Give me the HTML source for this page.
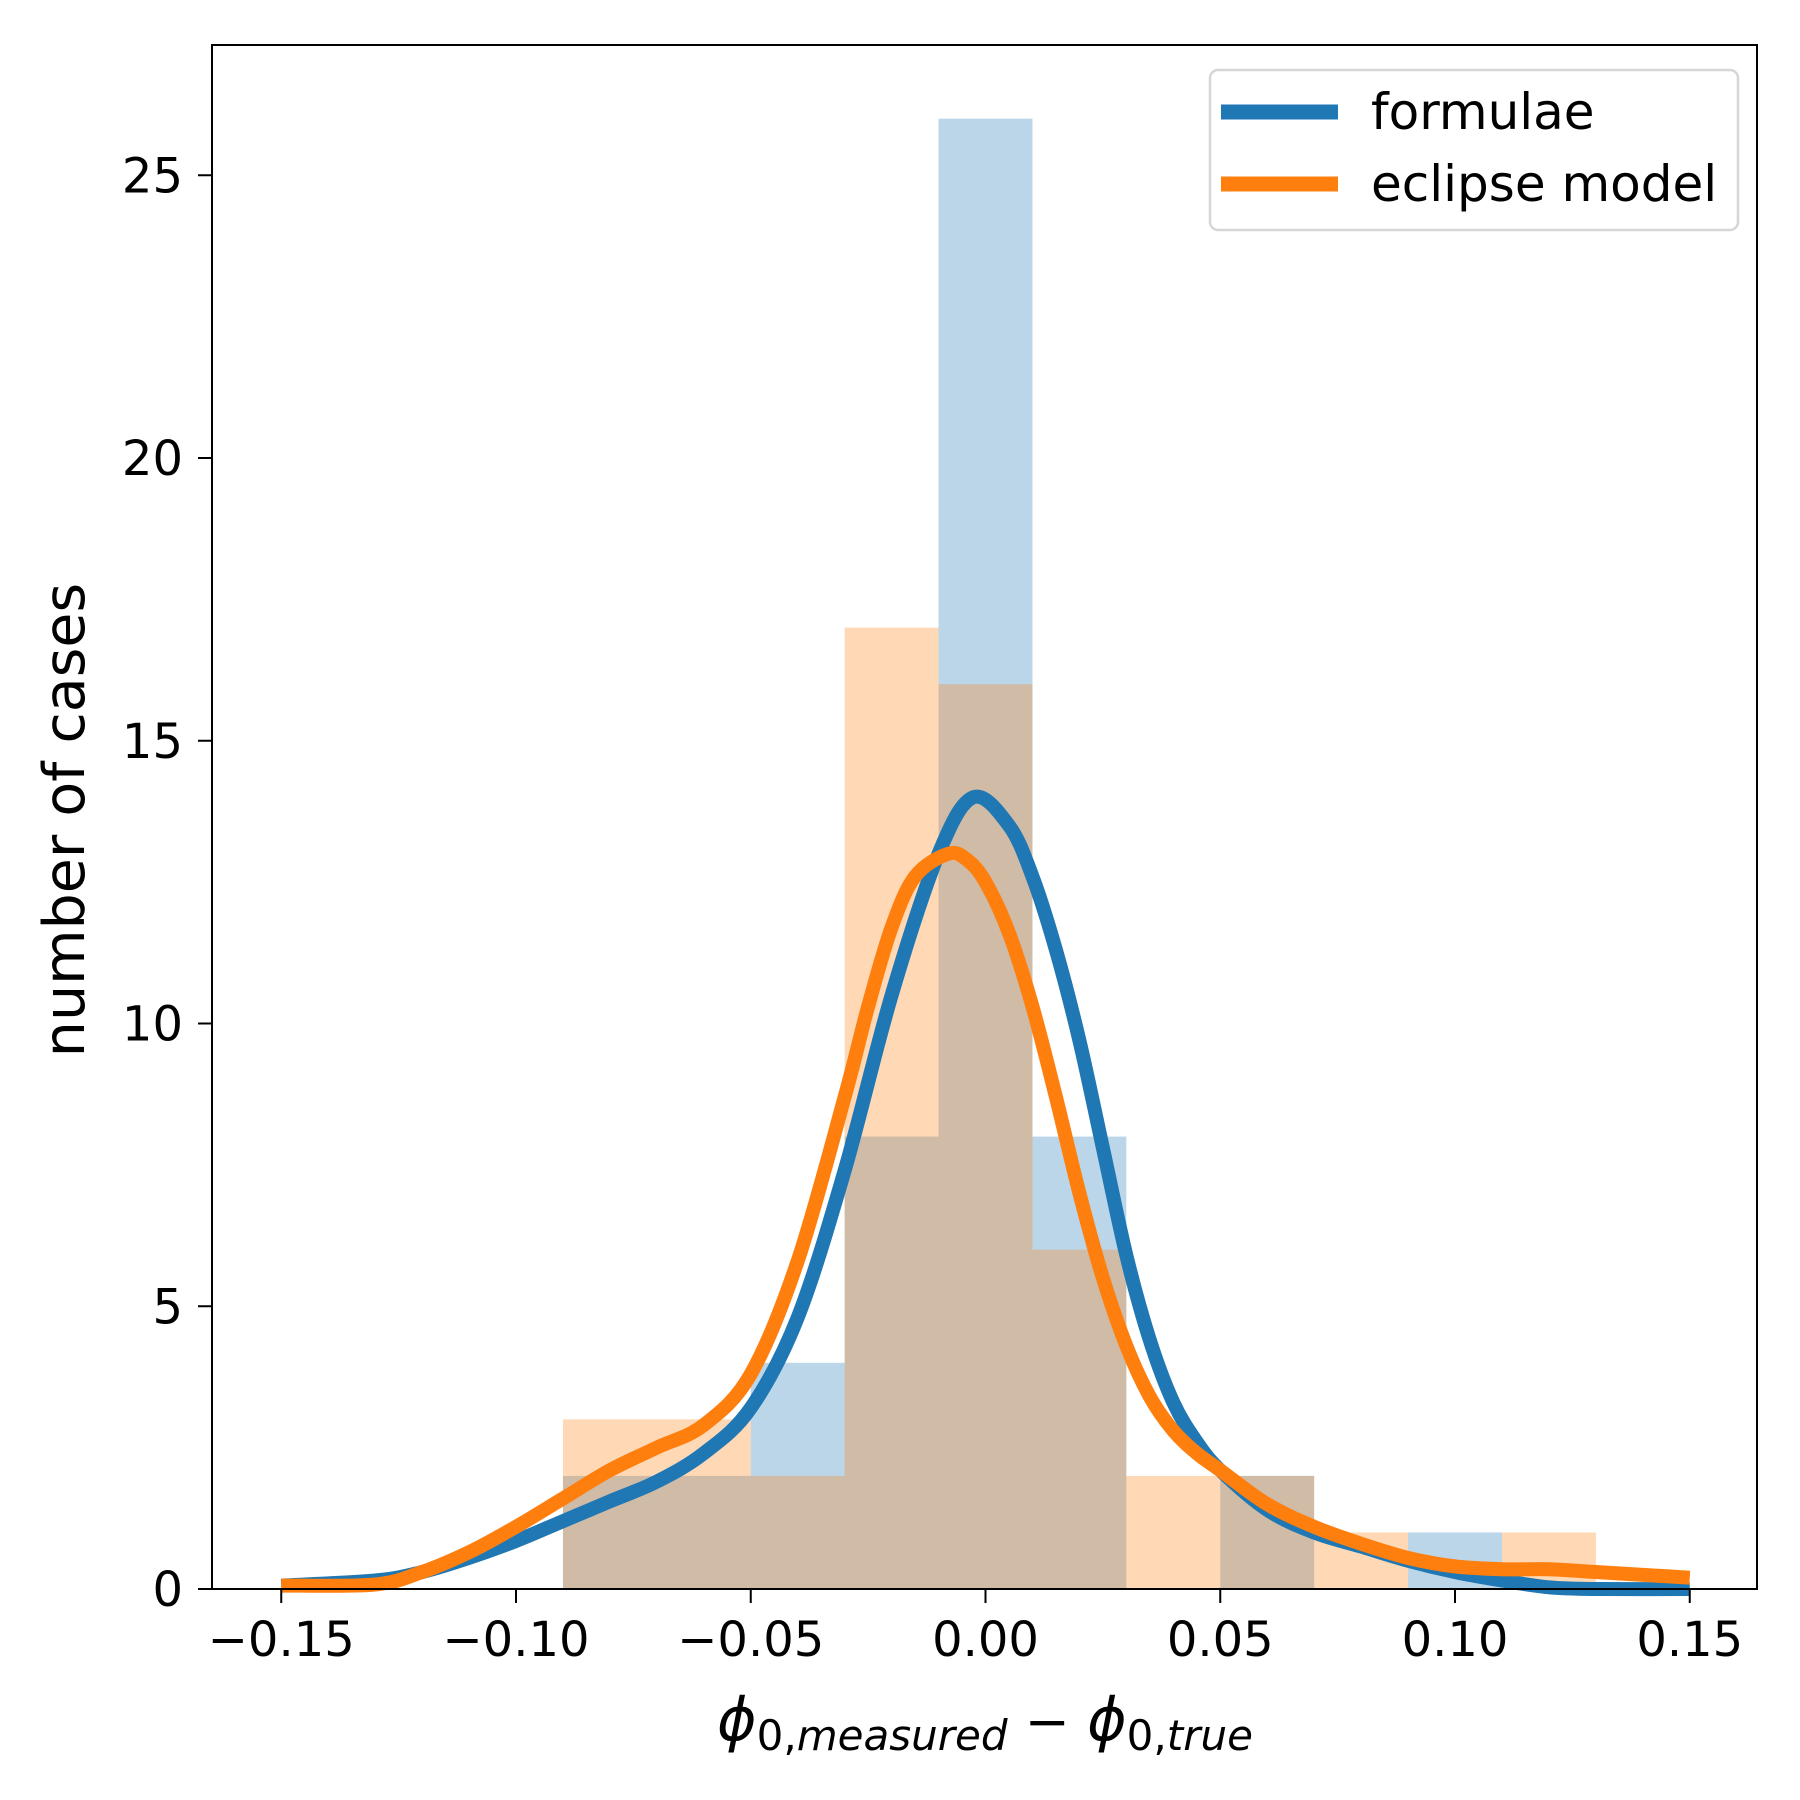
<!DOCTYPE html>
<html><head><meta charset="utf-8"><style>
html,body{margin:0;padding:0;background:#fff;}
svg{display:block;font-family:"DejaVu Sans","Liberation Sans",sans-serif;}
</style></head><body>
<svg id="chart" width="1800" height="1800" viewBox="0 0 1800 1800" xmlns="http://www.w3.org/2000/svg">
<rect width="1800" height="1800" fill="#fff"/>
<g id="bars"></g>
<g id="curves"></g>
<rect x="212" y="45" width="1545" height="1544" fill="none" stroke="#000" stroke-width="2"/>
<g id="xticks"></g>
<g id="yticks"></g>
<text x="84" y="820" font-size="57" text-anchor="middle" transform="rotate(-90 84 820)">number of cases</text>
<text x="985" y="1740" font-size="54" text-anchor="middle"><tspan font-style="italic" font-size="60">ϕ</tspan><tspan font-size="42" dy="10">0,</tspan><tspan font-size="42" font-style="italic">measured</tspan><tspan dy="-10" font-size="54"> − </tspan><tspan font-style="italic" font-size="60">ϕ</tspan><tspan font-size="42" dy="10">0,</tspan><tspan font-size="42" font-style="italic">true</tspan></text>
<g>
<rect x="1210" y="70" width="528" height="160" rx="8" fill="#fff" fill-opacity="0.8" stroke="#d6d6d6" stroke-width="2.5"/>
<line x1="1221" y1="112" x2="1338" y2="112" stroke="#1f77b4" stroke-width="15"/>
<text x="1371" y="129" font-size="50">formulae</text>
<line x1="1221" y1="184" x2="1338" y2="184" stroke="#ff7f0e" stroke-width="15"/>
<text x="1371" y="201" font-size="50">eclipse model</text>
</g>
</svg>
<script>
const binEdges = [-0.09,-0.07,-0.05,-0.03,-0.01,0.01,0.03,0.05,0.07,0.09,0.11,0.13];
const blueCounts = [2,2,4,8,26,8,0,2,0,1,0];
const orangeCounts = [3,3,2,17,16,6,2,2,1,0,1];
const blueKdeX = [-0.15,-0.13,-0.12,-0.11,-0.10,-0.09,-0.08,-0.07,-0.06,-0.05,-0.04,-0.03,-0.02,-0.01,-0.0026,0.005,0.01,0.015,0.02,0.025,0.03,0.035,0.04,0.045,0.05,0.06,0.07,0.08,0.09,0.10,0.11,0.12,0.13,0.15];
const blueKdeY = [0.06,0.15,0.3,0.55,0.85,1.2,1.55,1.9,2.4,3.2,4.8,7.4,10.5,13.0,14.0,13.5,12.6,11.3,9.7,7.8,5.9,4.4,3.3,2.6,2.1,1.4,1.0,0.75,0.5,0.3,0.15,0.03,0.0,0.0];
const orangeKdeX = [-0.15,-0.13,-0.12,-0.11,-0.10,-0.09,-0.08,-0.07,-0.06,-0.05,-0.04,-0.03,-0.025,-0.02,-0.015,-0.008,-0.004,0.0,0.005,0.01,0.015,0.02,0.025,0.03,0.035,0.04,0.045,0.05,0.06,0.07,0.08,0.09,0.10,0.11,0.12,0.13,0.14,0.15];
const orangeKdeY = [0.06,0.08,0.3,0.65,1.1,1.6,2.1,2.5,2.9,3.8,5.8,8.7,10.3,11.7,12.6,13.0,12.9,12.5,11.6,10.3,8.7,7.0,5.5,4.3,3.4,2.8,2.4,2.1,1.5,1.1,0.8,0.55,0.4,0.35,0.35,0.3,0.25,0.2];
const xTicks = [-0.15,-0.10,-0.05,0.00,0.05,0.10,0.15];
const xTickLabels = ["−0.15","−0.10","−0.05","0.00","0.05","0.10","0.15"];
const yTicks = [0,5,10,15,20,25];
const yTickLabels = ["0","5","10","15","20","25"];

const NS = "http://www.w3.org/2000/svg";
function sx(v){ return 985.5 + v*4695; }
function sy(v){ return 1589 - v*56.55; }
function mk(tag, attrs, parent){ const e=document.createElementNS(NS,tag); for(const k in attrs) e.setAttribute(k,attrs[k]); parent.appendChild(e); return e; }

const bars = document.getElementById('bars');
function drawBars(counts, color, name){
  for(let i=0;i<counts.length;i++){
    if(counts[i]<=0) continue;
    const x0=sx(binEdges[i]), x1=sx(binEdges[i+1]);
    const r = mk('rect',{x:x0,y:sy(counts[i]),width:x1-x0,height:sy(0)-sy(counts[i]),fill:color,'fill-opacity':0.3},bars);
    
    
  }
}
drawBars(blueCounts,'#1f77b4','formulae');
drawBars(orangeCounts,'#ff7f0e','eclipse-model');

const curves = document.getElementById('curves');
function smoothPath(xs, ys){
  const p = xs.map((x,i)=>[sx(x),sy(ys[i])]);
  let d = 'M'+p[0][0]+','+p[0][1];
  for(let i=0;i<p.length-1;i++){
    const p0=p[Math.max(0,i-1)], p1=p[i], p2=p[i+1], p3=p[Math.min(p.length-1,i+2)];
    const c1=[p1[0]+(p2[0]-p0[0])/6, p1[1]+(p2[1]-p0[1])/6];
    const c2=[p2[0]-(p3[0]-p1[0])/6, p2[1]-(p3[1]-p1[1])/6];
    d += ' C'+c1[0]+','+c1[1]+' '+c2[0]+','+c2[1]+' '+p2[0]+','+p2[1];
  }
  return d;
}
const bl = mk('path',{d:smoothPath(blueKdeX,blueKdeY),fill:'none',stroke:'#1f77b4','stroke-width':14,'stroke-linejoin':'round'},curves);


const ol = mk('path',{d:smoothPath(orangeKdeX,orangeKdeY),fill:'none',stroke:'#ff7f0e','stroke-width':14,'stroke-linejoin':'round'},curves);



const xg = document.getElementById('xticks');
xTicks.forEach((t,i)=>{
  const l = mk('line',{x1:sx(t),x2:sx(t),y1:1589,y2:1603,stroke:'#000','stroke-width':2},xg);
  
  
  const tx = mk('text',{x:sx(t),y:1656,'font-size':48,'text-anchor':'middle'},xg);
  tx.textContent = xTickLabels[i];
  
  
});
const yg = document.getElementById('yticks');
yTicks.forEach((t,i)=>{
  const l = mk('line',{x1:198,x2:212,y1:sy(t),y2:sy(t),stroke:'#000','stroke-width':2},yg);
  
  
  const tx = mk('text',{x:183,y:sy(t)+17,'font-size':48,'text-anchor':'end'},yg);
  tx.textContent = yTickLabels[i];
  
  
});
</script>
</body></html>
